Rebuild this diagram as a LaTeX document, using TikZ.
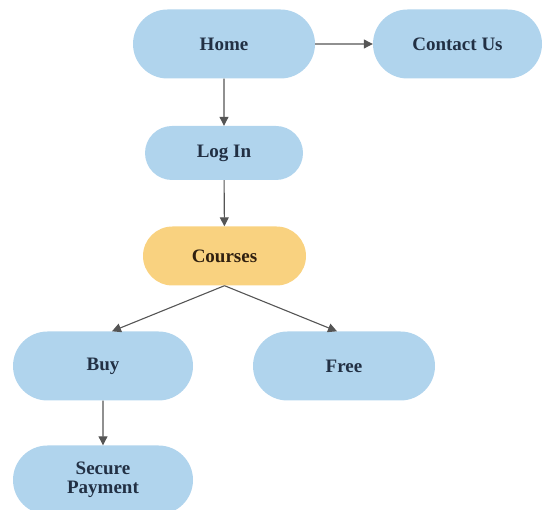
\documentclass[tikz,border=0pt]{standalone}
\usepackage{fontspec}
\setmainfont{Liberation Serif}
\usetikzlibrary{arrows.meta,shapes.misc}
\definecolor{pageblue}{RGB}{176,212,237}
\definecolor{pageorange}{RGB}{249,210,128}
\definecolor{pagetext}{RGB}{34,48,68}
\definecolor{linkgray}{RGB}{85,85,85}
\tikzset{
    page/.style={rounded rectangle, fill=pageblue, draw=none, align=center,
        font=\fontsize{19}{19}\selectfont\bfseries, text=pagetext, inner sep=0pt},
    link/.style={draw=linkgray, line width=1.1pt, -{Triangle[length=9pt,width=9pt]}}
}
\begin{document}
\begin{tikzpicture}[x=1pt, y=-1pt]
\useasboundingbox (0,0) rectangle (544,510);
\foreach \k/\x/\y/\w/\h/\t in {home/224/44/182/69/Home, contact/457.5/44/169/69/Contact Us,
        login/224/153/158/54/Log In, buy/103/366/180/69/Buy, free/344/366/182/69/Free,
        pay/103/480/180/69/{Secure\\Payment}}
    \node[page, minimum width=\w pt, minimum height=\h pt] (\k) at (\x,\y) {\t};
\node[page, fill=pageorange, text=black!75!brown, minimum width=163pt, minimum height=59pt] (courses) at (224.5,256) {Courses};
\draw[link] (home) -- (contact);
\draw[link] (home) -- (login);
\draw[link] (login) -- (courses);
\draw[link] (courses.south) -- (buy.north -| 112,0);
\draw[link] (courses.south) -- (free.north -| 337,0);
\draw[link] (buy) -- (pay);
\end{tikzpicture}
\end{document}
